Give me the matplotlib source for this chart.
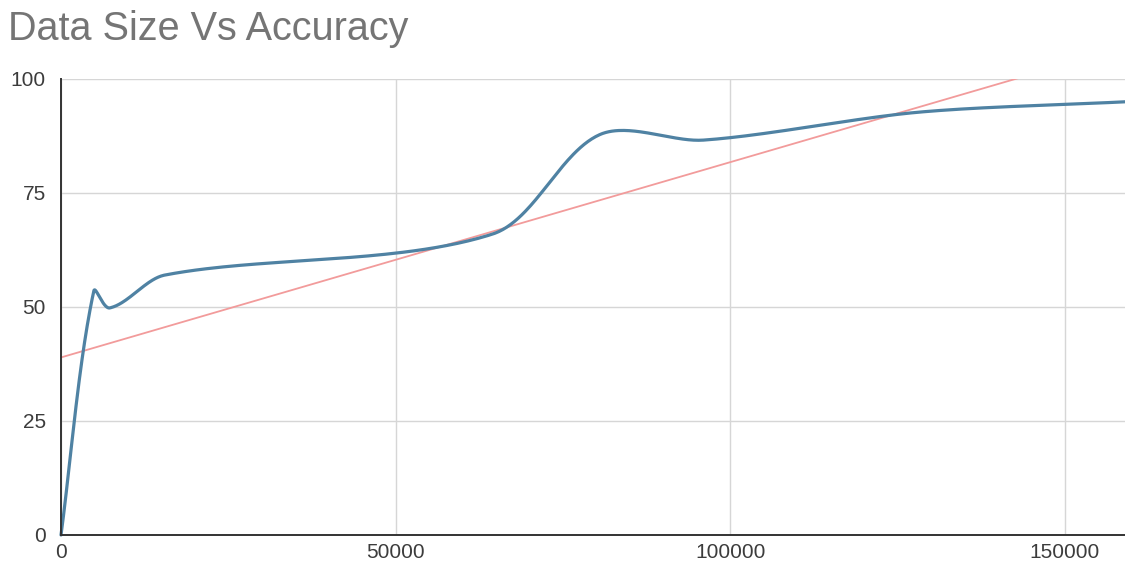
import numpy as np
import matplotlib
matplotlib.use("Agg")
import matplotlib.pyplot as plt

# Training set size vs. model accuracy (%)
data_size = [0, 4900, 7300, 15500, 64500, 80500, 96000, 128000, 159000]
accuracy = [0.0, 53.5, 49.8, 57.0, 66.0, 87.8, 86.6, 92.7, 95.0]

x_ticks = [0, 50000, 100000, 150000]
y_ticks = [0, 25, 50, 75, 100]

LINE_COLOR = "#4f82a3"
TREND_COLOR = "#f29b9b"
GRID_COLOR = "#d6d6d6"
TEXT_COLOR = "#3c3c3c"
TITLE_COLOR = "#757575"

plt.rcParams["font.family"] = ["Liberation Sans", "DejaVu Sans"]


def smooth_curve(xs, ys, scale, smoothing=0.3, samples=60):
    """Bezier curve through every point; control handles follow the
    neighbour-to-neighbour direction, sized by the segment length."""
    p = np.column_stack([xs, ys]).astype(float) * scale
    n = len(p)
    tangents = []
    for i in range(n):
        a = p[max(i - 1, 0)]
        b = p[min(i + 1, n - 1)]
        d = b - a
        tangents.append(d / np.hypot(*d))
    t = np.linspace(0, 1, samples)[:, None]
    out = []
    for i in range(n - 1):
        p1, p2 = p[i], p[i + 1]
        h = smoothing * np.hypot(*(p2 - p1))
        c1 = p1 + h * tangents[i]
        c2 = p2 - h * tangents[i + 1]
        seg = ((1 - t) ** 3) * p1 + 3 * ((1 - t) ** 2) * t * c1 \
            + 3 * (1 - t) * t ** 2 * c2 + t ** 3 * p2
        out.append(seg if i == 0 else seg[1:])
    curve = np.vstack(out) / scale
    return curve[:, 0], curve[:, 1]


fig = plt.figure(figsize=(11.25, 5.68), dpi=100)
ax_rect = [61 / 1125, 1 - 535 / 568, 1 - 61 / 1125, (535 - 79) / 568]
ax = fig.add_axes(ax_rect)

# the horizontal axis spans exactly the data range
x_min, x_max = min(data_size), max(data_size)
y_min, y_max = 0, 100
ax.set_xlim(x_min, x_max)
ax.set_ylim(y_min, y_max)

# Linear trendline fitted to the measurements
slope, intercept = np.polyfit(data_size, accuracy, 1)
tx = np.array([x_min, x_max])
ax.plot(tx, slope * tx + intercept, color=TREND_COLOR, lw=1.3, zorder=3,
        solid_capstyle="butt")

# smoothing is done in pixel units so both directions count as displayed
px_per_x = ax_rect[2] * 1125 / (x_max - x_min)
px_per_y = ax_rect[3] * 568 / (y_max - y_min)
sx, sy = smooth_curve(data_size, accuracy, np.array([px_per_x, px_per_y]))
ax.plot(sx, sy, color=LINE_COLOR, lw=2.3, zorder=4, solid_capstyle="round",
        clip_on=False)

ax.set_xticks(x_ticks)
ax.set_yticks(y_ticks)
ax.set_xticklabels([str(v) for v in x_ticks])
ax.set_yticklabels([str(v) for v in y_ticks])
ax.grid(True, color=GRID_COLOR, lw=1.0)
ax.set_axisbelow(True)
ax.tick_params(axis="both", length=0, labelsize=15, colors=TEXT_COLOR)
ax.tick_params(axis="y", pad=11)
ax.tick_params(axis="x", pad=6)

for side in ("top", "right"):
    ax.spines[side].set_visible(False)
for side in ("left", "bottom"):
    ax.spines[side].set_color("#333333")
    ax.spines[side].set_linewidth(1.4)
    ax.spines[side].set_zorder(5)

fig.text(8 / 1125, 1 - 29 / 568, "Data Size Vs Accuracy", fontsize=28.5,
         color=TITLE_COLOR, ha="left", va="center")

fig.savefig("out.png", dpi=100)
